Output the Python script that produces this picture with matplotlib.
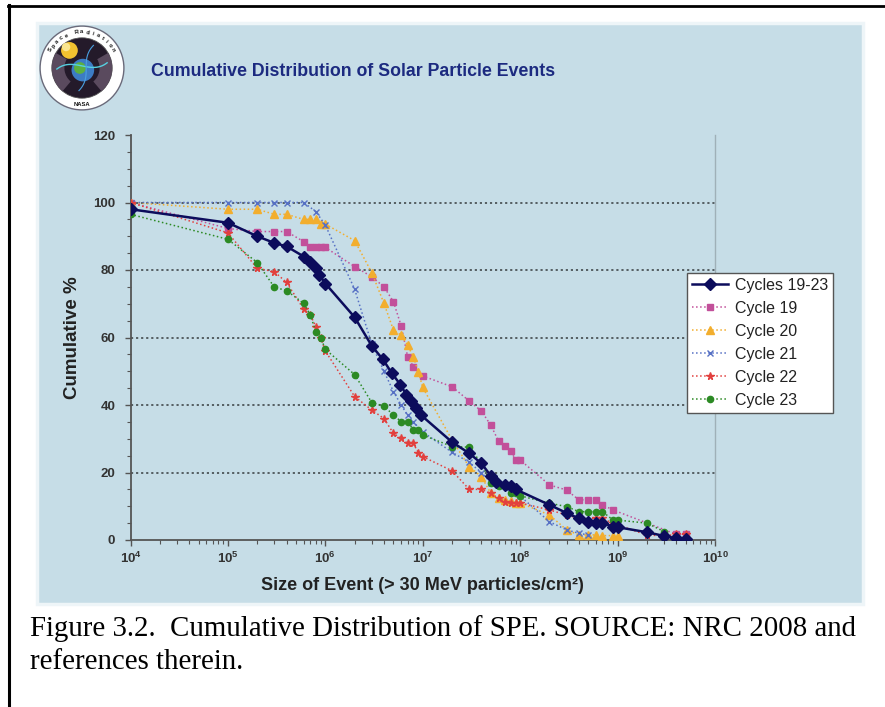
import matplotlib.pyplot as plt
import matplotlib.ticker as mticker
from matplotlib.patches import Rectangle, Circle, Wedge
from matplotlib.lines import Line2D
import numpy as np

# cumulative % of events vs event size (> 30 MeV particles/cm2)
all_size = [1e4, 1e5, 2e5, 3e5, 4e5, 6e5, 7e5, 8e5, 8.7e5, 1e6, 2e6, 3e6, 3.9e6, 4.8e6,
            5.9e6, 6.8e6, 7.6e6, 8.6e6, 9.6e6, 2e7, 3e7, 4e7, 5e7, 5.7e7, 7e7, 8e7, 9e7,
            2e8, 3e8, 4e8, 5e8, 6e8, 7e8, 9e8, 1e9, 2e9, 3e9, 4e9, 5e9]
all_pct = [98, 94, 90, 88, 87, 84, 82.5, 80.5, 78.5, 76, 66, 57.5, 53.5, 49.5,
           46, 43, 41.3, 39, 37, 29, 25.7, 22.7, 19, 17.3, 16.3, 16, 15,
           10.4, 8, 6.4, 5.4, 5.1, 5, 4, 3.8, 2.3, 1.2, 0.5, 0.2]

c19_size = [1e4, 1e5, 2e5, 3e5, 4e5, 6e5, 7e5, 8e5, 9e5, 1e6, 2e6, 3e6, 4e6, 5e6, 6e6,
            7e6, 8e6, 1e7, 2e7, 3e7, 4e7, 5e7, 6e7, 7e7, 8e7, 9e7, 1e8, 2e8, 3e8, 4e8,
            5e8, 6e8, 7e8, 9e8, 4e9, 5e9]
c19_pct = [100, 92.3, 91.4, 91.4, 91.4, 88.4, 86.7, 86.7, 86.7, 86.7, 81, 78, 75, 70.6, 63.5,
           54.3, 51.4, 48.6, 45.4, 41.2, 38.2, 34, 29.3, 27.9, 26.4, 23.7, 23.7, 16.3, 14.8, 11.9,
           11.9, 11.9, 10.4, 8.9, 1.7, 1.7]

c20_size = [1e4, 1e5, 2e5, 3e5, 4e5, 6e5, 7e5, 8e5, 9e5, 1e6, 2e6, 3e6, 4e6, 5e6, 6e6,
            7e6, 8e6, 9e6, 1e7, 2e7, 3e7, 4e7, 5e7, 6e7, 7e7, 8e7, 9e7, 1e8, 2e8, 3e8,
            4e8, 5e8, 6e8, 7e8, 9e8, 1e9]
c20_pct = [100, 98, 98, 96.5, 96.5, 95, 95, 95, 93.6, 93.6, 88.7, 79.2, 70.1, 62.2, 60.7,
           57.7, 54.3, 49.9, 45.2, 29.6, 21.7, 18.8, 13.8, 12.3, 11.8, 11.5, 11, 11, 7.4, 3,
           1.5, 1.5, 1.5, 1.3, 1.3, 1.2]

c21_size = [1e4, 1e5, 2e5, 3e5, 4e5, 6e5, 8e5, 1e6, 2e6, 3e6, 4e6, 5e6, 6e6, 7e6, 8e6,
            1e7, 2e7, 3e7, 4e7, 5e7, 1e8, 2e8, 3e8, 4e8, 5e8]
c21_pct = [100, 100, 100, 100, 100, 100, 97.3, 93.3, 74.3, 58, 50, 44, 40, 37, 35,
           32, 26, 23, 20, 17, 13, 5.4, 3, 2, 1.5]

c22_size = [1e4, 1e5, 2e5, 3e5, 4e5, 6e5, 7e5, 8e5, 9e5, 1e6, 2e6, 3e6, 4e6, 5e6, 6e6,
            7e6, 8e6, 9e6, 1e7, 2e7, 3e7, 4e7, 5e7, 6e7, 7e7, 8e7, 9e7, 1e8, 2e8, 3e8,
            4e8, 6e8, 7e8, 9e8, 2e9, 3e9, 4e9, 5e9]
c22_pct = [100, 91, 80.5, 79.5, 76.3, 68.4, 66.7, 63.2, 59.8, 56, 42.5, 38.5, 36, 31.6, 30.1,
           28.6, 28.6, 25.9, 24.7, 20.5, 15, 15, 13.8, 12.3, 11.4, 11, 11, 11, 8.9, 7.4,
           6.4, 6.4, 6.4, 4.9, 1.5, 1.2, 1.7, 1.7]

c23_size = [1e4, 1e5, 2e5, 3e5, 4e5, 6e5, 7e5, 8e5, 9e5, 1e6, 2e6, 3e6, 4e6, 5e6, 6e6,
            7e6, 8e6, 9e6, 1e7, 2e7, 3e7, 4e7, 5e7, 6e7, 7e7, 8e7, 9e7, 1e8, 2e8, 3e8,
            4e8, 5e8, 6e8, 7e8, 9e8, 1e9, 2e9, 3e9]
c23_pct = [96.5, 89.1, 82.2, 74.9, 73.9, 70.1, 66.7, 61.7, 59.8, 56.5, 49, 40.7, 39.7, 37, 35.1,
           35.1, 32.6, 32.6, 31.1, 27.7, 27.5, 22.7, 16.8, 16, 16, 13.8, 13.8, 13.1, 10.9, 9.9,
           8.4, 8.4, 8.4, 8.4, 5.9, 5.9, 5, 2.5]

x_ticks = [1e4, 1e5, 1e6, 1e7, 1e8, 1e9, 1e10]
x_tick_labels = [r'$\mathbf{10^{%d}}$' % p for p in range(4, 11)]
y_ticks = [0, 20, 40, 60, 80, 100, 120]

plt.rcParams['font.family'] = ['Liberation Sans', 'DejaVu Sans']
plt.rcParams['mathtext.fontset'] = 'custom'
plt.rcParams['mathtext.rm'] = 'Liberation Sans'
plt.rcParams['mathtext.bf'] = 'Liberation Sans:bold'

W, H = 885, 707
fig = plt.figure(figsize=(W / 100, H / 100), dpi=100)
fig.patch.set_facecolor('white')


def fx(px):
    return px / W


def fy(py):
    return 1 - py / H


# page frame (top and left rule)
fig.add_artist(Line2D([fx(8), 1], [fy(6), fy(6)], color='black', lw=2))
fig.add_artist(Line2D([fx(9), fx(9)], [fy(5), 0], color='black', lw=2.2))

# light blue slide panel
fig.add_artist(Rectangle((fx(37), fy(604)), fx(863) - fx(37), fy(23) - fy(604),
                         facecolor='#c6dde7', edgecolor='#eef5f8', lw=2.5,
                         transform=fig.transFigure, zorder=0))

fig.text(fx(353), fy(72), 'Cumulative Distribution of Solar Particle Events',
         ha='center', va='center', fontsize=12.8, fontweight='bold', color='#1c2a80')

# round badge in the corner
lg = fig.add_axes([fx(38), fy(112), fx(126) - fx(38), fy(24) - fy(112)])
lg.set_xlim(-1.05, 1.05)
lg.set_ylim(-1.05, 1.05)
lg.set_aspect('equal')
lg.axis('off')
lg.add_patch(Circle((0, 0), 1.0, facecolor='white', edgecolor='#6a6a7a', lw=1.0))
lg.add_patch(Circle((0, 0), 0.72, facecolor='#241a2a', edgecolor='#555', lw=0.6))
lg.add_patch(Wedge((0, 0), 0.72, 150, 230, width=0.3, facecolor='#5a4a5e', lw=0))
lg.add_patch(Wedge((0, 0), 0.72, -50, 30, width=0.3, facecolor='#5a4a5e', lw=0))
lg.add_patch(Circle((-0.3, 0.42), 0.2, facecolor='#f2c230', lw=0))
lg.add_patch(Circle((-0.38, 0.5), 0.1, facecolor='#fbe690', lw=0))
lg.add_patch(Circle((0.02, -0.05), 0.27, facecolor='#3c7cc4', lw=0))
lg.add_patch(Circle((-0.05, 0.0), 0.14, facecolor='#5cb040', lw=0))
t = np.linspace(-0.6, 0.6, 30)
lg.plot(t, 0.9 * t ** 3 - 0.2 * t + 0.05, color='#56d0e0', lw=1.0)
lg.plot(0.8 * t ** 3 + 0.1, t * 0.9, color='#4aa0e0', lw=0.8)
for i, ch in enumerate('Space Radiation'):
    ang = np.deg2rad(150 - i * 120 / 14)
    lg.text(0.86 * np.cos(ang), 0.86 * np.sin(ang), ch, fontsize=4.2, fontweight='bold',
            rotation=np.rad2deg(ang) - 90, ha='center', va='center', color='#111')
lg.text(0, -0.86, 'NASA', fontsize=4.2, fontweight='bold', ha='center', va='center', color='#111')

# chart area
ax = fig.add_axes([fx(130.5), fy(540), fx(715) - fx(130.5), fy(135) - fy(540)])
ax.set_facecolor('none')
ax.set_xscale('log')
ax.set_xlim(1e4, 1e10)
ax.set_ylim(0, 120)

ax.set_yticks(y_ticks)
ax.yaxis.set_minor_locator(mticker.MultipleLocator(5))
ax.set_xticks(x_ticks)
ax.set_xticklabels(x_tick_labels)
ax.xaxis.set_minor_locator(mticker.LogLocator(base=10, subs=np.arange(2, 10), numticks=20))
ax.xaxis.set_minor_formatter(mticker.NullFormatter())
ax.tick_params(axis='both', which='major', length=4, width=1, color='#555',
               labelsize=9.5, labelcolor='#333')
ax.tick_params(axis='both', which='minor', length=3, width=0.8, color='#555')
ax.tick_params(axis='x', which='major', pad=4)
ax.tick_params(axis='y', which='major', pad=7)
for lab in ax.get_yticklabels():
    lab.set_fontweight('bold')

for sp in ['left', 'bottom']:
    ax.spines[sp].set_color('#555')
    ax.spines[sp].set_linewidth(1.3)
ax.spines['right'].set_color('#9fb0b8')
ax.spines['right'].set_linewidth(1)
ax.spines['top'].set_visible(False)

for yv in y_ticks[1:-1]:
    ax.axhline(yv, color='#4c5458', lw=1.3, ls=(0, (1.2, 1.6)), zorder=1)

ax.plot(all_size, all_pct, color='#0c0c5c', lw=1.8, marker='D', ms=6.3,
        label='Cycles 19-23', zorder=6)
ax.plot(c19_size, c19_pct, color='#c2509a', lw=1.1, ls=':', marker='s', ms=4.8,
        label='Cycle 19', zorder=4)
ax.plot(c20_size, c20_pct, color='#f2ae2e', lw=1.1, ls=':', marker='^', ms=5.3,
        label='Cycle 20', zorder=4)
ax.plot(c21_size, c21_pct, color='#5670c4', lw=1.1, ls=':', marker='x', ms=4, mew=1,
        label='Cycle 21', zorder=4)
ax.plot(c22_size, c22_pct, color='#e2403e', lw=1.1, ls=':', marker='*', ms=5.5,
        label='Cycle 22', zorder=4)
ax.plot(c23_size, c23_pct, color='#2c8a24', lw=1.1, ls=':', marker='o', ms=4.5,
        label='Cycle 23', zorder=4)

ax.set_xlabel('Size of Event (> 30 MeV particles/cm²)', fontsize=13, fontweight='bold',
              color='#222', labelpad=8)
ax.set_ylabel('Cumulative %', fontsize=13.5, fontweight='bold', color='#222', labelpad=9)

leg = ax.legend(loc='upper left', bbox_to_anchor=(0.952, 0.659), borderaxespad=0,
                fontsize=11.5, frameon=True, fancybox=False, framealpha=1,
                edgecolor='#555', handlelength=2.3, labelspacing=0.5,
                borderpad=0.3, handletextpad=0.4)
leg.get_frame().set_linewidth(1)
for txt in leg.get_texts():
    txt.set_color('#222')

# caption under the panel
cap_font = ['Liberation Serif', 'DejaVu Serif']
fig.text(fx(30), fy(636), 'Figure 3.2.  Cumulative Distribution of SPE. SOURCE: NRC 2008 and',
         fontsize=20.8, family=cap_font, va='baseline', ha='left')
fig.text(fx(30), fy(669), 'references therein.', fontsize=20.8, family=cap_font,
         va='baseline', ha='left')

fig.savefig('out.png', dpi=100)
